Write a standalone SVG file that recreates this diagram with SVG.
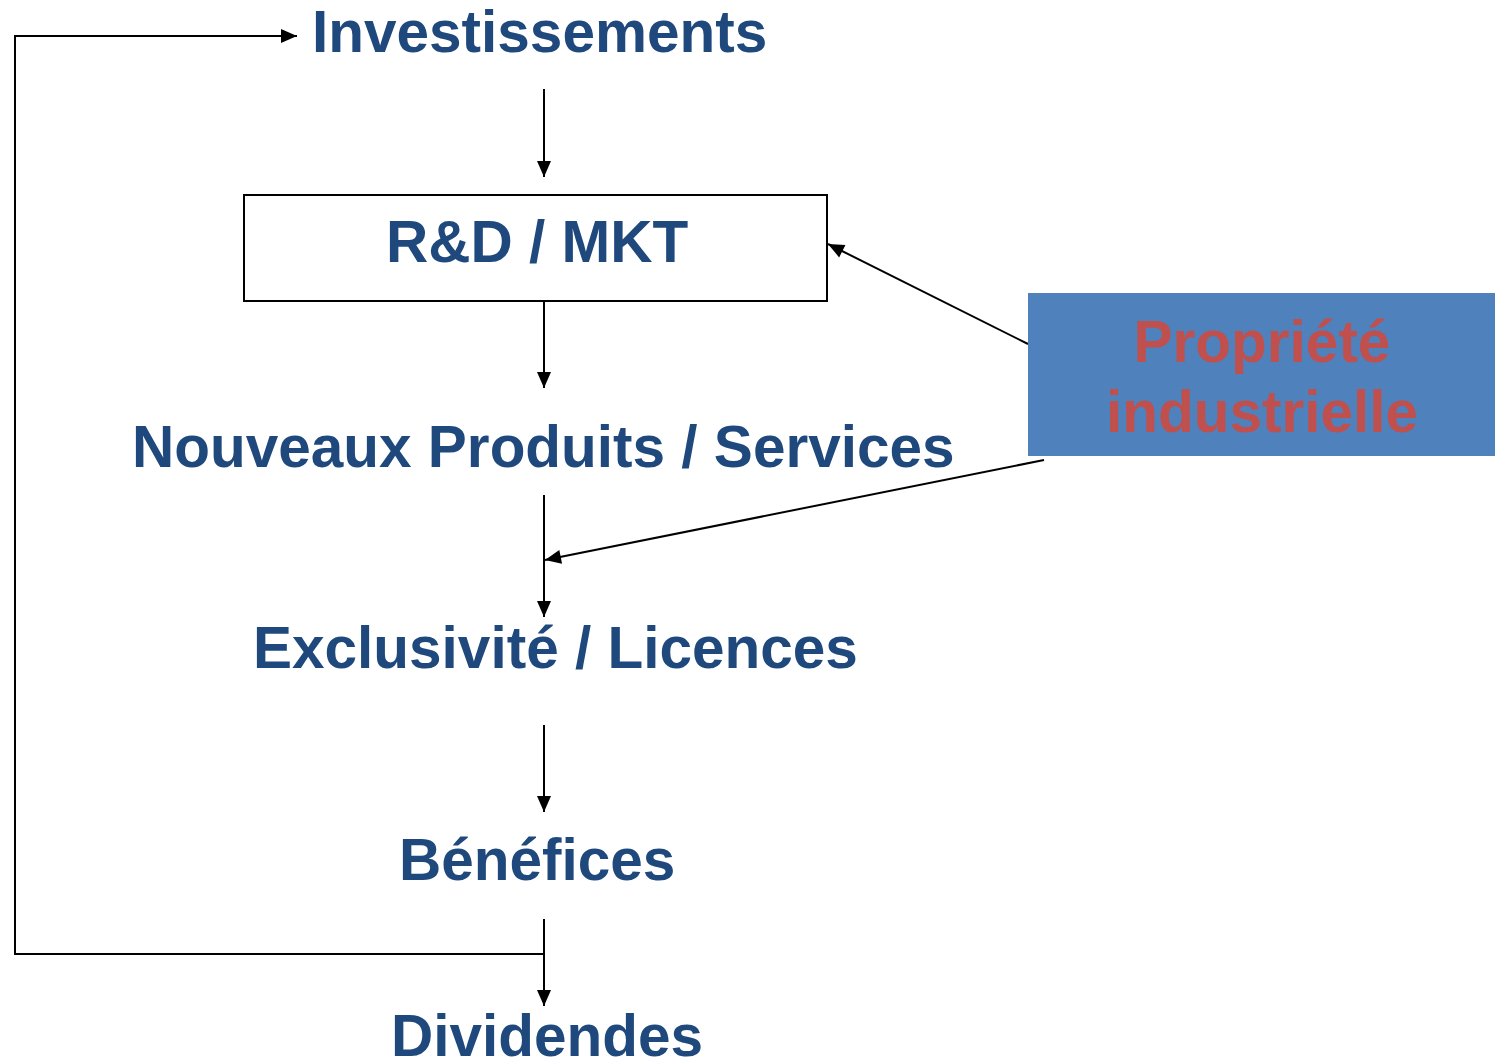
<svg xmlns="http://www.w3.org/2000/svg" width="1496" height="1060" viewBox="0 0 1496 1060">
<defs>
<marker id="ah" markerUnits="userSpaceOnUse" markerWidth="18" markerHeight="16" refX="16" refY="7" orient="auto" overflow="visible">
<path d="M0,0 L16,7 L0,14 Z" fill="#000"/>
</marker>
<style>
.t{font-family:"Liberation Sans",Arial,sans-serif;font-weight:bold;font-size:58.5px;fill:#1F497D}
.r{font-family:"Liberation Sans",Arial,sans-serif;font-weight:bold;font-size:58.5px;fill:#C0504D}
.a{fill:none;stroke:#000;stroke-width:2;marker-end:url(#ah)}
</style>
</defs>
<rect width="1496" height="1060" fill="#fff"/>
<g id="connectors">
<line class="a" x1="544" y1="89" x2="544" y2="177"/>
<line class="a" x1="544" y1="301" x2="544" y2="388"/>
<line class="a" x1="544" y1="495" x2="544" y2="617"/>
<line class="a" x1="544" y1="725" x2="544" y2="812"/>
<line class="a" x1="544" y1="919" x2="544" y2="1006"/>
<polyline class="a" points="544,954 15,954 15,36 297,36"/>
<line class="a" x1="1028" y1="344" x2="828" y2="244"/>
<line class="a" x1="1044" y1="460" x2="545" y2="560"/>
</g>
<g id="investissements"><text class="t" x="312" y="52">Investissements</text></g>
<g id="rd-mkt">
<rect x="244" y="195" width="583" height="106" fill="#fff" stroke="#000" stroke-width="2"/>
<text class="t" x="386" y="262">R&amp;D / MKT</text>
</g>
<g id="nouveaux"><text class="t" x="132" y="467">Nouveaux Produits / Services</text></g>
<g id="exclusivite"><text class="t" x="253" y="668">Exclusivité / Licences</text></g>
<g id="benefices"><text class="t" x="399" y="880">Bénéfices</text></g>
<g id="dividendes"><text class="t" x="391" y="1056">Dividendes</text></g>
<g id="propriete">
<rect x="1028" y="293" width="467" height="163" fill="#4F81BD"/>
<text class="r" x="1262" y="362" text-anchor="middle">Propriété</text>
<text class="r" x="1262" y="432" text-anchor="middle">industrielle</text>
</g>
</svg>
